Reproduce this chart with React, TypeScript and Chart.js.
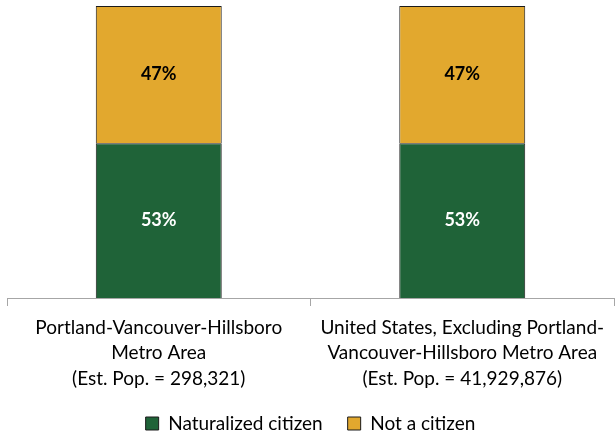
import React, { useEffect, useRef } from "react";
import { Chart, registerables } from "chart.js";

Chart.register(...registerables);

const categories: string[][] = [
  ["Portland-Vancouver-Hillsboro", "Metro Area", "(Est. Pop. = 298,321)"],
  ["United States, Excluding Portland-", "Vancouver-Hillsboro Metro Area", "(Est. Pop. = 41,929,876)"],
];
const naturalized: number[] = [53, 53];
const notCitizen: number[] = [47, 47];

const FONT = "Lato, 'Liberation Sans', sans-serif";
const LEGEND_HEIGHT = 47;

const barLabels = {
  id: "barLabels",
  afterDatasetsDraw(chart: any) {
    const ctx = chart.ctx;
    ctx.save();
    ctx.font = `bold 18px ${FONT}`;
    ctx.textAlign = "center";
    ctx.textBaseline = "middle";
    chart.data.datasets.forEach((ds: any, di: number) => {
      const meta = chart.getDatasetMeta(di);
      meta.data.forEach((el: any, i: number) => {
        const p = el.getProps(["x", "y", "base"], true);
        ctx.fillStyle = di === 0 ? "#ffffff" : "#000000";
        ctx.fillText(`${ds.data[i]}%`, p.x, (p.y + p.base) / 2);
      });
    });
    ctx.restore();
  },
};

const legendHeightFix = {
  id: "legendHeightFix",
  beforeLayout(chart: any) {
    const lg = chart.legend;
    if (lg && !lg.__patched) {
      const orig = lg.fit.bind(lg);
      lg.fit = function () {
        orig();
        this.height = LEGEND_HEIGHT;
      };
      lg.__patched = true;
    }
  },
};

export default function App() {
  const ref = useRef<HTMLCanvasElement | null>(null);
  useEffect(() => {
    if (!ref.current) return;
    const chart = new Chart(ref.current, {
      type: "bar",
      data: {
        labels: categories,
        datasets: [
          {
            label: "Naturalized citizen",
            data: naturalized,
            backgroundColor: "#1F6338",
            borderColor: "#1a1a1a",
            borderWidth: 1,
            barPercentage: 0.83,
            categoryPercentage: 0.5,
          },
          {
            label: "Not a citizen",
            data: notCitizen,
            backgroundColor: "#E2A82E",
            borderColor: "#1a1a1a",
            borderWidth: 1,
            barPercentage: 0.83,
            categoryPercentage: 0.5,
          },
        ],
      },
      options: {
        animation: false,
        responsive: false,
        maintainAspectRatio: false,
        layout: { padding: { top: 6, left: 7, right: 1, bottom: 0 } },
        scales: {
          x: {
            stacked: true,
            offset: true,
            afterFit: (scale: any) => {
              scale.height = 91;
            },
            border: { display: true, color: "#A6A6A6", width: 1 },
            grid: {
              offset: true,
              drawOnChartArea: false,
              drawTicks: true,
              tickLength: 8,
              color: (c: any) => (c.index === 2 ? "rgba(0,0,0,0)" : "#A6A6A6"),
            },
            ticks: {
              color: "#000000",
              font: { family: FONT, size: 19, lineHeight: 1.34 },
              padding: 9,
              maxRotation: 0,
              autoSkip: false,
            },
          },
          y: {
            stacked: true,
            display: false,
            min: 0,
            max: 100,
          },
        },
        plugins: {
          tooltip: { enabled: false },
          legend: {
            position: "bottom",
            labels: {
              color: "#000000",
              font: { family: FONT, size: 19 },
              boxWidth: 13,
              boxHeight: 13,
              padding: 25,
            },
          },
        },
      },
      plugins: [barLabels, legendHeightFix],
    });
    return () => chart.destroy();
  }, []);
  return (
    <div style={{ position: "fixed", left: 0, top: 0, width: 615, height: 436, background: "#fff" }}>
      <canvas ref={ref} width={615} height={436} style={{ width: 615, height: 436 }} />
    </div>
  );
}
